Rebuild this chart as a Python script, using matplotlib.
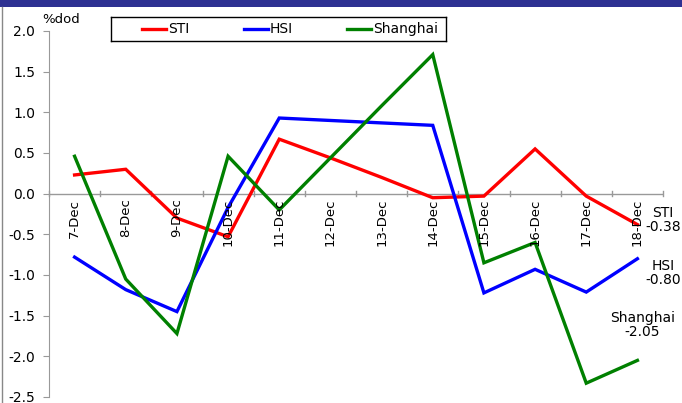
import matplotlib.pyplot as plt
from matplotlib.patches import Rectangle
from matplotlib.lines import Line2D

dates = ["7-Dec", "8-Dec", "9-Dec", "10-Dec", "11-Dec", "12-Dec",
         "13-Dec", "14-Dec", "15-Dec", "16-Dec", "17-Dec", "18-Dec"]
sti = [0.23, 0.30, -0.30, -0.53, 0.67, 0.44, 0.20, -0.05, -0.03, 0.55, -0.03, -0.38]
hsi = [-0.78, -1.18, -1.45, -0.17, 0.93, 0.90, 0.87, 0.84, -1.22, -0.93, -1.21, -0.80]
shanghai = [0.46, -1.05, -1.72, 0.46, -0.20, 0.44, 1.08, 1.71, -0.85, -0.60, -2.33, -2.05]
names = ["STI", "HSI", "Shanghai"]
colors = ["#ff0000", "#0000ff", "#008000"]

plt.rcParams['font.family'] = ['Tahoma', 'DejaVu Sans']
fig = plt.figure(figsize=(6.82, 4.03), dpi=100)
ax = fig.add_axes([49 / 682, 1 - 397 / 403, 614 / 682, 366 / 403])

x = list(range(len(dates)))
for ys, c in zip([sti, hsi, shanghai], colors):
    ax.plot(x, ys, color=c, lw=2.4, solid_joinstyle='miter')

ax.set_xlim(-0.5, len(dates) - 0.5)
ax.set_ylim(-2.5, 2.0)
yt = [2.0, 1.5, 1.0, 0.5, 0.0, -0.5, -1.0, -1.5, -2.0, -2.5]
ax.set_yticks(yt)
ax.set_yticklabels(["%.1f" % v for v in yt], fontsize=10)
ax.tick_params(axis='y', length=4, color='#999999', pad=6)
ax.set_xticks([])
for s in ['top', 'right', 'bottom']:
    ax.spines[s].set_visible(False)
ax.spines['left'].set_color('#999999')

# x axis line at zero with boundary ticks
ax.axhline(0, color='#999999', lw=1, zorder=0.5)
for b in range(len(dates) + 1):
    ax.plot([b - 0.5, b - 0.5], [-0.03, 0.03], color='#999999', lw=1, zorder=0.5,
            clip_on=False)
for i, d in enumerate(dates):
    ax.text(i, -0.06, d, rotation=90, ha='center', va='top', fontsize=9.5)

ax.text(-0.63, 2.06, "%dod", fontsize=9.5, ha='left', va='bottom')

# end labels
ax.text(11.5, -0.32, "STI\n-0.38", fontsize=10, ha='center', va='center', linespacing=1.0)
ax.text(11.5, -0.98, "HSI\n-0.80", fontsize=10, ha='center', va='center', linespacing=1.0)
ax.text(11.1, -1.62, "Shanghai\n-2.05", fontsize=10, ha='center', va='center', linespacing=1.0)

# legend box
lg_ax = fig.add_axes([111 / 682, 1 - 41 / 403, 335 / 682, 24 / 403])
lg_ax.set_xlim(0, 335)
lg_ax.set_ylim(0, 24)
lg_ax.set_xticks([])
lg_ax.set_yticks([])
for s in lg_ax.spines.values():
    s.set_color('black')
    s.set_linewidth(1)
lx = [31, 133, 236]
for px, n, c in zip(lx, names, colors):
    lg_ax.add_line(Line2D([px, px + 24], [12, 12], color=c, lw=2.4))
    lg_ax.text(px + 26, 12, n, fontsize=10, ha='left', va='center')

# top band and left border
fig.add_artist(Rectangle((0, 1 - 7 / 403), 1, 7 / 403, transform=fig.transFigure,
                         color='#2e3192', lw=0))
fig.add_artist(Line2D([2 / 682, 2 / 682], [0, 1 - 7 / 403], transform=fig.transFigure,
                      color='#888888', lw=1))

fig.savefig("out.png", dpi=100)
